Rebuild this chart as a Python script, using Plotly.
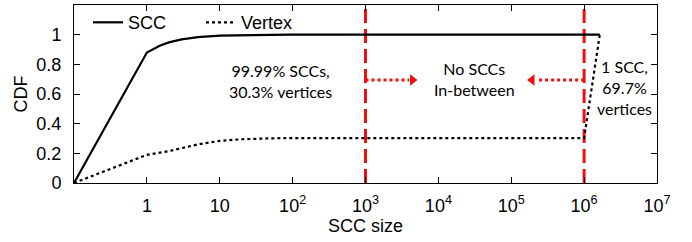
import math
import plotly.graph_objects as go

# ---- data ----
scc_x = [0.1, 1, 1.5, 2, 3, 5, 10, 20, 50, 100, 1.64e6]
scc_y = [0, 0.88, 0.925, 0.948, 0.968, 0.984, 0.993, 0.997, 0.999, 1.0, 1.0]

vtx_x = [0.1, 1, 2, 3, 5, 10, 20, 50, 100, 1e6, 1.64e6]
vtx_y = [0, 0.19, 0.215, 0.233, 0.26, 0.284, 0.295, 0.301, 0.303, 0.303, 1.0]

split_x = [1e3, 1e6]          # red dashed boundaries
arrow_y = 0.695
arrow_right = [1e3, 10**3.60, 10**3.645]   # start, line end, head centre
arrow_left = [1e6, 10**5.34, 10**5.285]

xtick_vals = [1, 10, 1e2, 1e3, 1e4, 1e5, 1e6, 1e7]
xtick_text = ["1", "10", "10<sup>2</sup>", "10<sup>3</sup>", "10<sup>4</sup>",
              "10<sup>5</sup>", "10<sup>6</sup>", "10<sup>7</sup>"]
ytick_vals = [0, 0.2, 0.4, 0.6, 0.8, 1]
ytick_text = ["0", "0.2", "0.4", "0.6", "0.8", "1"]

note_x = [10**1.83, 10**4.5, 10**6.55]
note_y = [0.689, 0.70, 0.641]
note_text = ["99.99% SCCs,<br>30.3% vertices", "No SCCs<br>In-between",
             "1 SCC,<br>69.7%<br>vertices"]

RED = "#f01010"
fig = go.Figure()

for sx in split_x:
    fig.add_trace(go.Scatter(x=[sx, sx], y=[0, 1.2], mode="lines",
                             line=dict(color=RED, width=3, dash="14px,6px"),
                             showlegend=False, hoverinfo="skip"))

for arr, sym in [(arrow_right, "triangle-right"), (arrow_left, "triangle-left")]:
    fig.add_trace(go.Scatter(x=arr[:2], y=[arrow_y, arrow_y], mode="lines",
                             line=dict(color=RED, width=3, dash="3px,3px"),
                             showlegend=False, hoverinfo="skip"))
    fig.add_trace(go.Scatter(x=[arr[2]], y=[arrow_y], mode="markers",
                             marker=dict(symbol=sym, size=10, color=RED),
                             showlegend=False, hoverinfo="skip"))

fig.add_trace(go.Scatter(x=scc_x, y=scc_y, mode="lines", name="SCC",
                         line=dict(color="black", width=2.2)))
fig.add_trace(go.Scatter(x=vtx_x, y=vtx_y, mode="lines", name="Vertex",
                         line=dict(color="black", width=2.2, dash="3px,3px")))

for nx, ny, txt in zip(note_x, note_y, note_text):
    # annotation x on a log axis is given in log10 units
    fig.add_annotation(x=math.log10(nx), y=ny, xref="x", yref="y", text=txt,
                       showarrow=False,
                       font=dict(family="Lato", size=16, color="black"),
                       xanchor="center", yanchor="middle", align="center")

axis_common = dict(showgrid=False, zeroline=False, showline=True, linecolor="black",
                   linewidth=1, mirror="allticks", ticks="inside", ticklen=6,
                   tickcolor="black", automargin=False,
                   tickfont=dict(family="Liberation Sans", size=18, color="black"))

fig.update_xaxes(type="log", range=[-1, 7], tickvals=xtick_vals, ticktext=xtick_text,
                 title=dict(text="SCC size", font=dict(family="Liberation Sans", size=18,
                                                       color="black"), standoff=2),
                 ticklabelstandoff=6, **axis_common)
fig.update_yaxes(range=[0, 1.2], tickvals=ytick_vals, ticktext=ytick_text,
                 title=dict(text="CDF", font=dict(family="Liberation Sans", size=18,
                                                  color="black"), standoff=4),
                 ticklabelstandoff=8, **axis_common)

fig.update_layout(
    width=692, height=242,
    margin=dict(l=74, r=35, t=5, b=59, autoexpand=False),
    paper_bgcolor="white", plot_bgcolor="white",
    showlegend=True,
    legend=dict(orientation="h", x=0.024, y=1.005, xanchor="left", yanchor="top",
                bgcolor="rgba(0,0,0,0)", font=dict(family="Liberation Sans", size=18,
                                                   color="black"),
                entrywidth=68, entrywidthmode="pixels", tracegroupgap=0),
)

fig.write_html("out.html", config={"displayModeBar": False},
               post_script="document.body.style.margin='0px';")
